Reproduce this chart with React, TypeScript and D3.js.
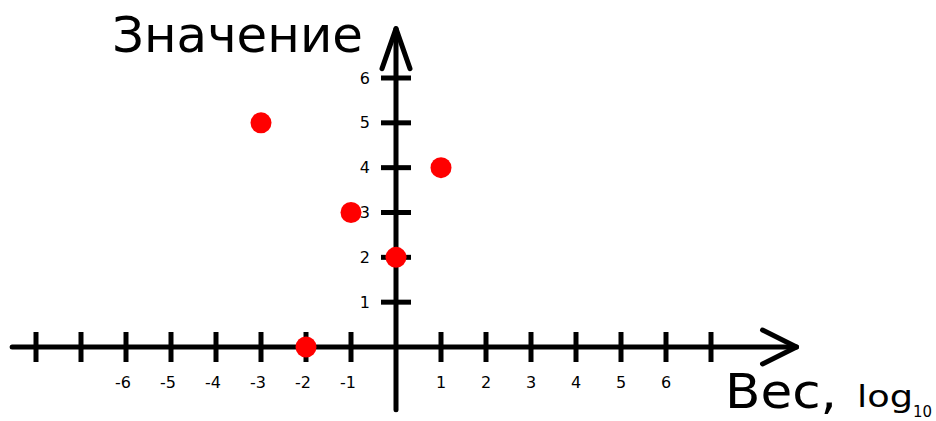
import React from "react";
import * as d3 from "d3";

// Axis ticks
const xTicks = [-8, -7, -6, -5, -4, -3, -2, -1, 1, 2, 3, 4, 5, 6, 7];
const xTickLabels = [-6, -5, -4, -3, -2, -1, 1, 2, 3, 4, 5, 6];
const yTicks = [1, 2, 3, 4, 5, 6];
const yTickLabels = [1, 2, 3, 4, 5, 6];

// Points: weight (log10) vs value
const weights = [-3, -1, 1, 0, -2];
const values = [5, 3, 4, 2, 0];

const W = 936;
const H = 421;
const FONT = "'DejaVu Sans', sans-serif";

export default function App() {
  const x = d3.scaleLinear().domain([-8, 7]).range([36, 711]);
  const y = d3.scaleLinear().domain([0, 6]).range([347, 78]);

  const x0 = x(0);
  const y0 = y(0);
  const sw = 5;
  const tickHalf = 15;

  const xStart = x(-8.53);
  const xEnd = x(8.9);
  const yTop = y(7.1);
  const yBottom = y(-1.4);

  const points = weights.map((w, i) => ({ w, v: values[i] }));

  return (
    <svg
      width={W}
      height={H}
      style={{ position: "fixed", left: 0, top: 0, background: "#fff" }}
      fontFamily={FONT}
    >
      <rect width={W} height={H} fill="#fff" />
      <g stroke="#000" strokeWidth={sw} strokeLinecap="round" fill="none">
        {/* x axis */}
        <line x1={xStart} y1={y0} x2={xEnd} y2={y0} />
        <polyline
          points={`${xEnd - 34},${y0 - 17} ${xEnd},${y0} ${xEnd - 34},${y0 + 17}`}
          strokeLinejoin="round"
        />
        {xTicks.map((t) => (
          <line
            key={`xt${t}`}
            x1={x(t)}
            x2={x(t)}
            y1={y0 - tickHalf}
            y2={y0 + tickHalf}
            strokeLinecap="butt"
          />
        ))}
        {/* y axis */}
        <line x1={x0} y1={yBottom} x2={x0} y2={yTop} />
        <polyline
          points={`${x0 - 14},${yTop + 40} ${x0},${yTop} ${x0 + 14},${yTop + 40}`}
          strokeLinejoin="round"
        />
        {yTicks.map((t) => (
          <line
            key={`yt${t}`}
            x1={x0 - tickHalf}
            x2={x0 + tickHalf}
            y1={y(t)}
            y2={y(t)}
            strokeLinecap="butt"
          />
        ))}
      </g>

      {/* tick labels */}
      <g fill="#000" fontSize={16}>
        {xTickLabels.map((t) => (
          <text key={`xl${t}`} x={x(t) - (t < 0 ? 3 : 0)} y={388} textAnchor="middle">
            {t}
          </text>
        ))}
        {yTickLabels.map((t) => (
          <text
            key={`yl${t}`}
            x={370}
            y={y(t)}
            textAnchor="end"
            dominantBaseline="central"
          >
            {t}
          </text>
        ))}
      </g>

      {/* points */}
      <g fill="#ff0000">
        {points.map((p, i) => (
          <circle key={i} cx={x(p.w)} cy={y(p.v)} r={10.5} />
        ))}
      </g>

      {/* axis titles */}
      <text
        x={112}
        y={52}
        fontSize={50}
        fill="#000"
        textLength={251}
        lengthAdjust="spacingAndGlyphs"
      >
        Значение
      </text>
      <text
        x={725}
        y={408}
        fontSize={48}
        fill="#000"
        textLength={112}
        lengthAdjust="spacingAndGlyphs"
      >
        Вес,
      </text>
      <text
        x={857}
        y={407}
        fontSize={30}
        fill="#000"
        textLength={56}
        lengthAdjust="spacingAndGlyphs"
      >
        log
      </text>
      <text
        x={913}
        y={417}
        fontSize={15}
        fill="#000"
        textLength={19}
        lengthAdjust="spacingAndGlyphs"
      >
        10
      </text>
    </svg>
  );
}
